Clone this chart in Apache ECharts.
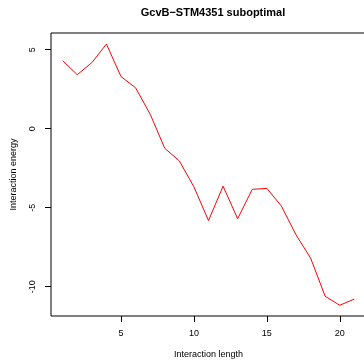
<!DOCTYPE html>
<html>
<head>
<meta charset="utf-8">
<script src="https://cdn.jsdelivr.net/npm/echarts@6/dist/echarts.min.js"></script>
<style>
  html, body { margin: 0; padding: 0; background: #fff; }
  #chart { width: 364px; height: 361px; }
</style>
</head>
<body>
<div id="chart"></div>
<script>
// interaction length (x) and interaction energy (y)
var lengths = [1, 2, 3, 4, 5, 6, 7, 8, 9, 10, 11, 12, 13, 14, 15, 16, 17, 18, 19, 20, 21];
var energies = [4.31, 3.42, 4.18, 5.36, 3.30, 2.59, 0.92, -1.24, -2.04, -3.68, -5.82, -3.64, -5.70, -3.84, -3.78, -4.90, -6.72, -8.19, -10.61, -11.18, -10.79];
var xTicks = [5, 10, 15, 20];
var yTicks = [-10, -5, 0, 5];

var chart = echarts.init(document.getElementById('chart'));
var font = 'Liberation Sans, Arial, Helvetica, sans-serif';

var points = lengths.map(function (x, i) { return [x, energies[i]]; });

var option = {
    animation: false,
    title: {
        text: 'GcvB\u2212STM4351 suboptimal',
        left: 208,
        textAlign: 'center',
        top: 2,
        textStyle: { fontFamily: font, fontSize: 11, fontWeight: 'bold', color: '#000' }
    },
    grid: {
        left: 51, top: 33, width: 315, height: 283,
        outerBoundsMode: 'none',
        show: true, borderColor: '#000', borderWidth: 1, backgroundColor: 'transparent'
    },
    xAxis: {
        type: 'value',
        min: 0.2, max: 21.8,
        name: 'Interaction length',
        nameLocation: 'middle',
        nameGap: 34,
        nameTextStyle: { fontFamily: font, fontSize: 9, color: '#000' },
        axisLine: { show: false, onZero: false },
        splitLine: { show: false },
        axisTick: { show: true, inside: false, length: 6, customValues: xTicks, lineStyle: { color: '#000' } },
        axisLabel: { customValues: xTicks, margin: 13, fontFamily: font, fontSize: 9, color: '#000' }
    },
    yAxis: {
        type: 'value',
        min: -11.86, max: 6.06,
        name: 'Interaction energy',
        nameLocation: 'middle',
        nameGap: 33,
        nameTextStyle: { fontFamily: font, fontSize: 9, color: '#000' },
        axisLine: { show: false, onZero: false },
        splitLine: { show: false },
        axisTick: { show: true, inside: false, length: 6, customValues: yTicks, lineStyle: { color: '#000' } },
        axisLabel: { customValues: yTicks, rotate: 90, margin: 14, fontFamily: font, fontSize: 9, color: '#000' }
    },
    series: [{
        type: 'line',
        data: points,
        showSymbol: false,
        lineStyle: { color: '#FF0000', width: 1 }
    }]
};
chart.setOption(option);
</script>
</body>
</html>
